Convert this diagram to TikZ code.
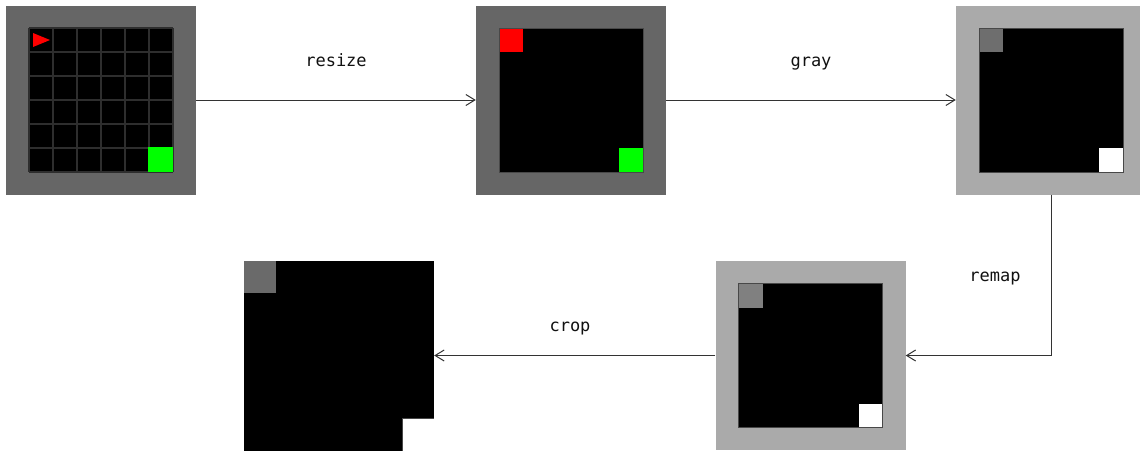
\documentclass[tikz,border=0pt]{standalone}
\usepackage{fontspec}
\setmonofont{DejaVu Sans Mono}
\usetikzlibrary{arrows.meta}
\definecolor{frameDark}{HTML}{666666}
\definecolor{frameLight}{HTML}{AAAAAA}
\definecolor{gridLine}{HTML}{2E2E2E}
\definecolor{cellOutline}{HTML}{484848}
\definecolor{goalGreen}{HTML}{00FF00}
\definecolor{agentRed}{HTML}{FF0000}
\definecolor{agentGrayA}{HTML}{6E6E6E}
\definecolor{agentGrayB}{HTML}{808080}
\definecolor{agentGrayC}{HTML}{6A6A6A}
\definecolor{linkColor}{HTML}{333333}
\definecolor{labelColor}{HTML}{111111}
\begin{document}
\begin{tikzpicture}[x=1pt,y=-1pt,
  frame/.style={rectangle,inner sep=0pt,minimum width=190pt,minimum height=189pt,draw=none},
  darkframe/.style={frame,fill=frameDark},
  lightframe/.style={frame,fill=frameLight},
  plainimg/.style={rectangle,inner sep=0pt,minimum width=190pt,minimum height=190pt,fill=black},
  conn/.style={draw=linkColor,line width=1pt,-{Straight Barb[length=9pt,width=11pt,line width=1pt]}},
  lbl/.style={inner sep=0pt,anchor=base,text=labelColor,font=\ttfamily\fontsize{17}{20}\selectfont}]
\useasboundingbox (0,0) rectangle (1140,450);

% Observation frames
\node[darkframe]  (img1) at (101,100) {};
\node[darkframe]  (img2) at (571,100) {};
\node[lightframe] (img3) at (1051,100) {};
\node[lightframe] (img4) at (810.5,355.5) {};
\node[plainimg]   (img5) at (339,355.5) {};

% Full grid view: 6x6 cells with agent and goal
\begin{scope}[shift={(img1.center)}]
  \fill[black] (-72,-72) rectangle (72,72);
  \foreach \k in {0,...,6} {
    \draw[gridLine,line width=2pt] (-72+24*\k,-72) -- (-72+24*\k,72);
    \draw[gridLine,line width=2pt] (-72,-72+24*\k) -- (72,-72+24*\k);
  }
  \fill[goalGreen] (47,47) rectangle (72,72);
  \fill[agentRed] (-68,-67) -- (-68,-53) -- (-51,-60) -- cycle;
\end{scope}

% Resized view
\begin{scope}[shift={(img2.center)}]
  \fill[black] (-72,-72) rectangle (72,72);
  \fill[agentRed] (-72,-72) rectangle (-48,-48);
  \fill[goalGreen] (48,48) rectangle (72,72);
  \draw[cellOutline,line width=0.8pt] (-72,-72) rectangle (72,72);
\end{scope}

% Grayscale view
\begin{scope}[shift={(img3.center)}]
  \fill[black] (-72,-72) rectangle (72,72);
  \fill[agentGrayA] (-72,-72) rectangle (-48,-48);
  \fill[white] (48,48) rectangle (72,72);
  \draw[cellOutline,line width=0.8pt] (-72,-72) rectangle (72,72);
\end{scope}

% Remapped view
\begin{scope}[shift={(img4.center)}]
  \fill[black] (-72,-72) rectangle (72,72);
  \fill[agentGrayB] (-72,-72) rectangle (-48,-48);
  \fill[white] (48,48) rectangle (72,72);
  \draw[cellOutline,line width=0.8pt] (-72,-72) rectangle (72,72);
\end{scope}

% Cropped view
\begin{scope}[shift={(img5.center)}]
  \fill[agentGrayC] (-95,-95) rectangle (-63,-63);
  \fill[white] (63,63) rectangle (95,95);
  \draw[cellOutline,line width=0.8pt] (63,95) -- (63,63) -- (95,63);
\end{scope}

% Processing steps
\draw[conn] (img1) -- (img2);
\draw[conn] (img2) -- (img3);
\draw[conn] (img3.south) |- (img4.east);
\draw[conn] (img4) -- (img5);

\node[lbl] (lresize) at (336,66) {resize};
\node[lbl] (lgray)   at (811,66) {gray};
\node[lbl] (lremap)  at (995,281) {remap};
\node[lbl] (lcrop)   at (570,331) {crop};
\end{tikzpicture}
\end{document}
